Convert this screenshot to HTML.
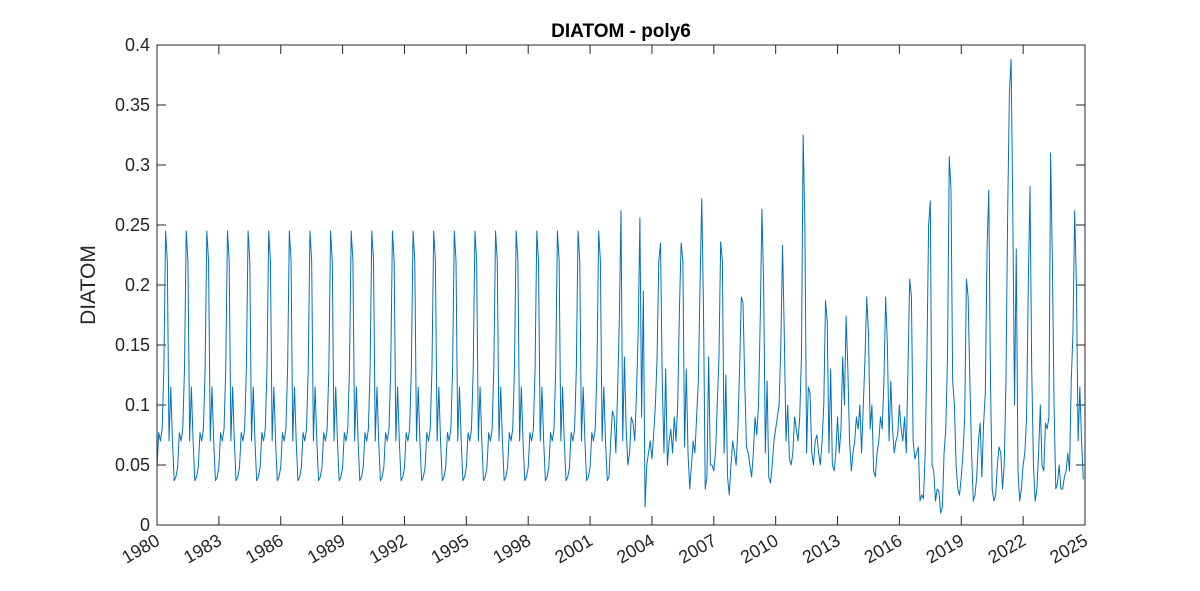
<!DOCTYPE html>
<html><head><meta charset="utf-8"><style>
body{margin:0;background:#fff;}
svg{display:block;font-family:"Liberation Sans",Arial,sans-serif;}
</style></head><body>
<svg id="chart" width="1200" height="591">
<rect x="0" y="0" width="1200" height="591" fill="#fff"/>
<text x="621" y="37" text-anchor="middle" font-size="19" font-weight="bold" fill="#000">DIATOM - poly6</text>
<text transform="translate(95,285) rotate(-90)" text-anchor="middle" font-size="21" fill="#262626">DIATOM</text>
<g id="axes"></g>
<g id="series"></g>
<rect x="157" y="45" width="928" height="480" fill="none" stroke="#262626" stroke-width="1"/>
</svg>
<script>
const climatology = [0.048,0.077,0.07,0.08,0.13,0.245,0.22,0.07,0.115,0.07,0.037,0.04];
const climYears = 22; // 1980-2001
const obs2002 = [0.07,0.095,0.09,0.06,0.11,0.17,0.262,0.07,0.14,0.08,0.05,0.06];
const obs2003 = [0.09,0.085,0.07,0.11,0.16,0.256,0.09,0.195,0.015,0.05,0.06,0.07];
const obs2004 = [0.055,0.075,0.1,0.14,0.22,0.235,0.12,0.06,0.13,0.05,0.07,0.08];
const obs2005 = [0.06,0.09,0.07,0.1,0.18,0.235,0.22,0.065,0.13,0.06,0.03,0.05];
const obs2006 = [0.07,0.06,0.09,0.12,0.2,0.272,0.18,0.03,0.04,0.14,0.05,0.05];
const obs2007 = [0.045,0.06,0.1,0.14,0.236,0.22,0.06,0.125,0.04,0.025,0.05,0.07];
const obs2008 = [0.06,0.05,0.08,0.13,0.19,0.185,0.12,0.065,0.06,0.05,0.04,0.06];
const obs2009 = [0.09,0.075,0.1,0.17,0.263,0.2,0.06,0.12,0.04,0.035,0.05,0.07];
const obs2010 = [0.08,0.09,0.1,0.15,0.233,0.16,0.07,0.1,0.055,0.05,0.06,0.09];
const obs2011 = [0.08,0.07,0.09,0.14,0.325,0.25,0.06,0.115,0.11,0.06,0.05,0.07];
const obs2012 = [0.075,0.06,0.05,0.07,0.1,0.187,0.17,0.06,0.13,0.05,0.045,0.06];
const obs2013 = [0.09,0.06,0.08,0.14,0.1,0.174,0.13,0.07,0.045,0.06,0.07,0.09];
const obs2014 = [0.08,0.1,0.06,0.1,0.14,0.19,0.16,0.08,0.1,0.045,0.04,0.06];
const obs2015 = [0.07,0.09,0.08,0.12,0.19,0.15,0.07,0.12,0.08,0.06,0.07,0.075];
const obs2016 = [0.1,0.08,0.07,0.09,0.06,0.13,0.205,0.19,0.07,0.055,0.06,0.065];
const obs2017 = [0.02,0.025,0.022,0.06,0.14,0.25,0.27,0.05,0.045,0.02,0.03,0.028];
const obs2018 = [0.01,0.015,0.06,0.08,0.14,0.307,0.28,0.12,0.1,0.05,0.03,0.025];
const obs2019 = [0.04,0.06,0.09,0.205,0.19,0.12,0.06,0.02,0.025,0.04,0.07,0.085];
const obs2020 = [0.04,0.085,0.11,0.23,0.279,0.12,0.03,0.02,0.025,0.05,0.065,0.06];
const obs2021 = [0.03,0.05,0.12,0.26,0.36,0.388,0.26,0.1,0.23,0.045,0.02,0.03];
const obs2022 = [0.05,0.06,0.09,0.2,0.282,0.13,0.05,0.02,0.03,0.06,0.1,0.05];
const obs2023 = [0.045,0.085,0.08,0.09,0.31,0.22,0.1,0.03,0.035,0.05,0.03,0.03];
const obs2024 = [0.04,0.045,0.06,0.045,0.12,0.16,0.262,0.2,0.07,0.115,0.07,0.038];
const xTickLabels = ["1980","1983","1986","1989","1992","1995","1998","2001","2004","2007","2010","2013","2016","2019","2022","2025"];
const yTickLabels = ["0","0.05","0.1","0.15","0.2","0.25","0.3","0.35","0.4"];

const NS="http://www.w3.org/2000/svg";
const L=157,R=1085,T=45,B=525,X0=1980,X1=2025,Y0=0,Y1=0.4;
function xs(t){return L+(t-X0)/(X1-X0)*(R-L);}
function ys(v){return B-(v-Y0)/(Y1-Y0)*(B-T);}

let values=[];
for(let y=0;y<climYears;y++) values=values.concat(climatology);
[obs2002,obs2003,obs2004,obs2005,obs2006,obs2007,obs2008,obs2009,obs2010,obs2011,obs2012,obs2013,obs2014,obs2015,obs2016,obs2017,obs2018,obs2019,obs2020,obs2021,obs2022,obs2023,obs2024].forEach(a=>{values=values.concat(a);});

const axes=document.getElementById('axes');
xTickLabels.forEach(lab=>{
  const x=xs(+lab);
  const t1=document.createElementNS(NS,'line');
  t1.setAttribute('x1',x);t1.setAttribute('x2',x);t1.setAttribute('y1',B);t1.setAttribute('y2',B-9);
  t1.setAttribute('stroke','#262626');
  
  
  axes.appendChild(t1);
  const t2=document.createElementNS(NS,'line');
  t2.setAttribute('x1',x);t2.setAttribute('x2',x);t2.setAttribute('y1',T);t2.setAttribute('y2',T+9);
  t2.setAttribute('stroke','#262626');
  
  
  axes.appendChild(t2);
  const tx=document.createElementNS(NS,'text');
  tx.setAttribute('transform','translate('+(x+4)+','+(B+19)+') rotate(-30)');
  tx.setAttribute('text-anchor','end');
  tx.setAttribute('font-size','18');
  tx.setAttribute('fill','#262626');
  tx.textContent=lab;
  
  
  axes.appendChild(tx);
});
yTickLabels.forEach(lab=>{
  const y=ys(+lab);
  const t1=document.createElementNS(NS,'line');
  t1.setAttribute('x1',L);t1.setAttribute('x2',L+9);t1.setAttribute('y1',y);t1.setAttribute('y2',y);
  t1.setAttribute('stroke','#262626');
  
  
  axes.appendChild(t1);
  const t2=document.createElementNS(NS,'line');
  t2.setAttribute('x1',R);t2.setAttribute('x2',R-9);t2.setAttribute('y1',y);t2.setAttribute('y2',y);
  t2.setAttribute('stroke','#262626');
  
  
  axes.appendChild(t2);
  const tx=document.createElementNS(NS,'text');
  tx.setAttribute('x',L-7);tx.setAttribute('y',y+6);
  tx.setAttribute('text-anchor','end');
  tx.setAttribute('font-size','18');
  tx.setAttribute('fill','#262626');
  tx.textContent=lab;
  
  
  axes.appendChild(tx);
});
const pts=values.map((v,i)=>xs(X0+i/12).toFixed(2)+','+ys(v).toFixed(2)).join(' ');
const pl=document.createElementNS(NS,'polyline');
pl.setAttribute('points',pts);
pl.setAttribute('fill','none');
pl.setAttribute('stroke','#0072BD');
pl.setAttribute('stroke-width','1');
pl.setAttribute('stroke-linejoin','round');


document.getElementById('series').appendChild(pl);
</script>
</body></html>
